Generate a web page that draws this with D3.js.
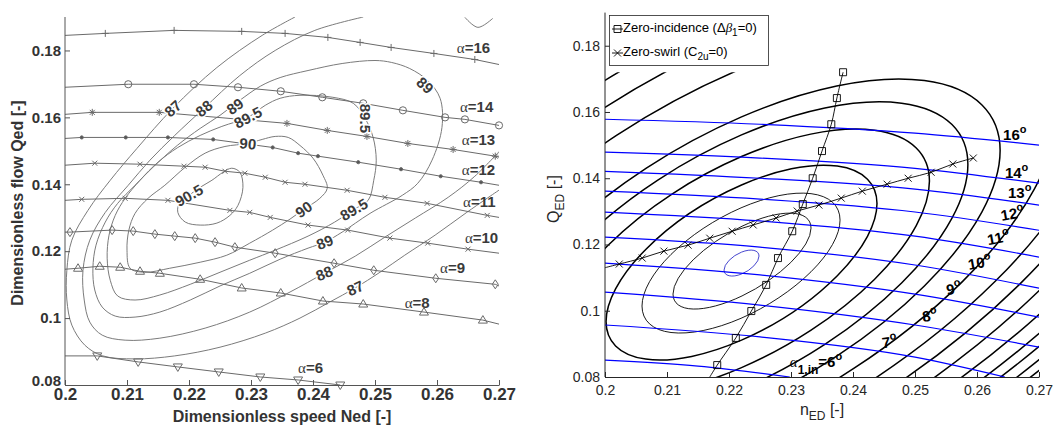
<!DOCTYPE html>
<html>
<head>
<meta charset="utf-8">
<script src="https://cdn.jsdelivr.net/npm/d3@7"></script>
<style>
  body { margin: 0; background: #fff; }
  svg { font-family: "Liberation Sans", Arial, sans-serif; }
</style>
</head>
<body>
<div id="chart"></div>
<script>
// ---------------- shared ticks ----------------
const xTicks = [0.2, 0.21, 0.22, 0.23, 0.24, 0.25, 0.26, 0.27];
const xTickLabels = ["0.2", "0.21", "0.22", "0.23", "0.24", "0.25", "0.26", "0.27"];
const yTicks = [0.08, 0.1, 0.12, 0.14, 0.16, 0.18];
const yTickLabels = ["0.08", "0.1", "0.12", "0.14", "0.16", "0.18"];

// ---------------- left chart: guide vane lines (Ned, Qed) ----------------
const a16Marks = [[0.2065,0.1851],[0.2176,0.1860],[0.2285,0.1857],[0.2355,0.1851],[0.2424,0.1839],[0.2476,0.1824],[0.2526,0.1809],[0.2595,0.1791],[0.2661,0.1773]];
const a14Marks = [[0.2102,0.1699],[0.2208,0.1699],[0.2279,0.1690],[0.2348,0.1678],[0.2415,0.1660],[0.2481,0.1642],[0.2545,0.1621],[0.2613,0.1600],[0.2645,0.1594],[0.2700,0.1576]];
const a13Marks = [[0.2044,0.1615],[0.2152,0.1615],[0.2358,0.1582],[0.2423,0.1561],[0.2487,0.1543],[0.2553,0.1522],[0.2626,0.1504],[0.2694,0.1484]];
const a12Marks = [[0.2027,0.1540],[0.2098,0.1540],[0.2166,0.1540],[0.2239,0.1534],[0.2335,0.1510],[0.2376,0.1493],[0.2408,0.1484],[0.2473,0.1466],[0.2542,0.1445],[0.2606,0.1424],[0.2671,0.1406]];
const a11Marks = [[0.2048,0.1463],[0.2121,0.1460],[0.2192,0.1454],[0.2226,0.1451],[0.2258,0.1439],[0.2290,0.1433],[0.2323,0.1421],[0.2355,0.1406],[0.2387,0.1400],[0.2455,0.1382],[0.2516,0.1361],[0.2584,0.1343],[0.2681,0.1307]];
const a10Marks = [[0.2027,0.1355],[0.2097,0.1358],[0.2166,0.1352],[0.2266,0.1322],[0.2298,0.1316],[0.2331,0.1301],[0.2392,0.1278],[0.2456,0.1263],[0.2524,0.1239],[0.2585,0.1224],[0.2650,0.1206]];
const a9Marks = [[0.2008,0.1257],[0.2076,0.1263],[0.2110,0.1260],[0.2145,0.1251],[0.2177,0.1245],[0.2210,0.1239],[0.2242,0.1227],[0.2274,0.1212],[0.2339,0.1194],[0.2434,0.1164],[0.2498,0.1143],[0.2598,0.1119],[0.2694,0.1101]];
const a8Marks = [[0.2021,0.1149],[0.2056,0.1155],[0.2089,0.1152],[0.2121,0.1140],[0.2153,0.1134],[0.2218,0.1116],[0.2285,0.1090],[0.2348,0.1075],[0.2416,0.1051],[0.2481,0.1042],[0.2579,0.1018],[0.2674,0.0994]];
const a6Marks = [[0.2052,0.0887],[0.2118,0.0869],[0.2182,0.0854],[0.2248,0.0839],[0.2315,0.0824],[0.2376,0.0815],[0.2444,0.0800]];

const leftVanes = [
  {sym: "plus",    start: [0.2, 0.1845], marks: a16Marks, end: [0.27, 0.1758]},
  {sym: "circle",  start: [0.2, 0.1690], marks: a14Marks, end: null},
  {sym: "star",    start: [0.2, 0.1609], marks: a13Marks, end: [0.27, 0.1481]},
  {sym: "dot",     start: [0.2, 0.1537], marks: a12Marks, end: [0.27, 0.1397]},
  {sym: "times",   start: [0.2, 0.1457], marks: a11Marks, end: [0.27, 0.1301]},
  {sym: "times",   start: [0.2, 0.1352], marks: a10Marks, end: [0.27, 0.1194]},
  {sym: "diamond", start: [0.2, 0.1257], marks: a9Marks,  end: [0.27, 0.1096]},
  {sym: "triUp",   start: [0.2, 0.1146], marks: a8Marks,  end: [0.27, 0.0982]},
  {sym: "triDown", start: [0.2, 0.0887], marks: a6Marks,  end: null}
];
const leftVaneLabels = [["16",0.2632,0.1791],["14",0.2637,0.1615],["13",0.2640,0.1516],["12",0.2640,0.1427],["11",0.2642,0.1331],["10",0.2645,0.1224],["9",0.2605,0.1134],["8",0.2548,0.1030],["6",0.2376,0.0836]];

// ---------------- left chart: efficiency contours ----------------
const eta87 = [[0.2371,0.19],[0.2318,0.1845],[0.2245,0.1749],[0.2174,0.1627],[0.2116,0.1507],[0.2073,0.1412],[0.2037,0.1322],[0.2011,0.1233],[0.2003,0.1143],[0.2003,0.1054],[0.2011,0.0979],[0.2032,0.0919],[0.2061,0.0887],[0.2113,0.0878],[0.2177,0.0887],[0.2250,0.0913],[0.2323,0.0955],[0.2379,0.1000],[0.2427,0.1048],[0.2468,0.1090],[0.2508,0.1137],[0.2548,0.1188],[0.2597,0.1248],[0.2648,0.1316],[0.2702,0.1385]];
const eta88 = [[0.2481,0.19],[0.2403,0.1860],[0.2339,0.1800],[0.2282,0.1725],[0.2224,0.1627],[0.2177,0.1546],[0.2137,0.1472],[0.2102,0.1397],[0.2065,0.1316],[0.2040,0.1233],[0.2029,0.1143],[0.2031,0.1054],[0.2040,0.0988],[0.2060,0.0949],[0.2097,0.0934],[0.2153,0.0940],[0.2226,0.0970],[0.2298,0.1018],[0.2363,0.1078],[0.2418,0.1134],[0.2468,0.1185],[0.2516,0.1242],[0.2565,0.1299],[0.2618,0.1361],[0.2661,0.1424],[0.2702,0.1501]];
const eta89 = [[0.2419,0.1227],[0.2447,0.1257],[0.2492,0.1313],[0.2544,0.1367],[0.2569,0.1403],[0.2592,0.1472],[0.2608,0.1570],[0.2605,0.1657],[0.2585,0.1710],[0.2556,0.1746],[0.2527,0.1764],[0.2500,0.1770],[0.2447,0.1761],[0.2392,0.1740],[0.2347,0.1719],[0.2315,0.1693],[0.2282,0.1651],[0.2250,0.1606],[0.2218,0.1567],[0.2181,0.1516],[0.2142,0.1451],[0.2113,0.1397],[0.2085,0.1343],[0.2065,0.1287],[0.2050,0.1218],[0.2045,0.1149],[0.2048,0.1084],[0.2060,0.1033],[0.2081,0.1006],[0.2113,0.1003],[0.2153,0.1018],[0.2202,0.1054],[0.2250,0.1096],[0.2298,0.1134],[0.2347,0.1176],[0.2392,0.1209]];
const eta895 = [[0.2295,0.1600],[0.2323,0.1636],[0.2347,0.1657],[0.2379,0.1666],[0.2432,0.1660],[0.2465,0.1642],[0.2484,0.1597],[0.2497,0.1540],[0.2502,0.1472],[0.2498,0.1412],[0.2489,0.1352],[0.2466,0.1325],[0.2435,0.1287],[0.2392,0.1245],[0.2339,0.1203],[0.2298,0.1173],[0.2250,0.1137],[0.2202,0.1101],[0.2153,0.1069],[0.2113,0.1054],[0.2085,0.1066],[0.2073,0.1113],[0.2068,0.1179],[0.2071,0.1248],[0.2081,0.1307],[0.2097,0.1358],[0.2121,0.1412],[0.2150,0.1466],[0.2182,0.1510],[0.2218,0.1546],[0.2253,0.1573]];
const eta90 = [[0.2295,0.1522],[0.2318,0.1534],[0.2339,0.1543],[0.2360,0.1540],[0.2379,0.1516],[0.2400,0.1478],[0.2416,0.1427],[0.2423,0.1388],[0.2411,0.1358],[0.2385,0.1325],[0.2363,0.1296],[0.2335,0.1263],[0.2298,0.1224],[0.2261,0.1188],[0.2218,0.1167],[0.2169,0.1149],[0.2129,0.1137],[0.2105,0.1149],[0.2100,0.1203],[0.2103,0.1263],[0.2113,0.1313],[0.2134,0.1358],[0.2161,0.1397],[0.2194,0.1451],[0.2226,0.1493],[0.2258,0.1513]];
const eta905 = [[0.2200,0.1367],[0.2218,0.1391],[0.2237,0.1412],[0.2255,0.1436],[0.2269,0.1448],[0.2282,0.1436],[0.2287,0.1391],[0.2279,0.1337],[0.2266,0.1307],[0.2245,0.1284],[0.2218,0.1278],[0.2194,0.1287],[0.2182,0.1316],[0.2185,0.1346]];
const etaCorner = [[0.2645,0.1899],[0.2666,0.1869],[0.2690,0.1896]];

const openContours = [eta87, eta88, etaCorner];
const closedContours = [eta89, eta895, eta90, eta905];
const leftLevelLabels = [["87",0.2174,0.1627,-42],["88",0.2224,0.1627,-40],["89",0.2274,0.1633,-35],["89.5",0.2295,0.1600,-28],["90",0.2295,0.1522,5],["90.5",0.2200,0.1367,-30],["89",0.2581,0.1696,42],["89.5",0.2484,0.1597,90],["90",0.2385,0.1325,-35],["89.5",0.2466,0.1325,-30],["89",0.2419,0.1227,-22],["88",0.2418,0.1134,-22],["87",0.2468,0.1090,-25]];

// ---------------- right chart: guide vane lines (nED, QED) ----------------
const gv16 = [[0.2,0.1578],[0.225,0.1563],[0.25,0.1536],[0.27,0.1500]];
const gv14 = [[0.2,0.1479],[0.225,0.1461],[0.25,0.1430],[0.27,0.1385]];
const gv13 = [[0.2,0.1421],[0.225,0.1400],[0.25,0.1367],[0.27,0.1319]];
const gv12 = [[0.2,0.1361],[0.225,0.1337],[0.25,0.1298],[0.27,0.1243]];
const gv11 = [[0.2,0.1298],[0.225,0.1271],[0.25,0.1225],[0.27,0.1162]];
const gv10 = [[0.2,0.1222],[0.225,0.1192],[0.25,0.1138],[0.27,0.1068]];
const gv9  = [[0.2,0.1144],[0.225,0.1108],[0.25,0.1050],[0.27,0.0981]];
const gv8  = [[0.2,0.1056],[0.225,0.1017],[0.25,0.0957],[0.27,0.0890]];
const gv7  = [[0.2,0.0957],[0.225,0.0921],[0.25,0.0860],[0.2645,0.0800]];
const gv6  = [[0.2,0.0851],[0.215,0.0833],[0.2298,0.0800]];
const rightVanes = [gv16, gv14, gv13, gv12, gv11, gv10, gv9, gv8, gv7, gv6];
const rightVaneLabels = [["16",0.2642,0.1515,0],["14",0.2645,0.1400,0],["13",0.2650,0.1340,0],["12",0.2640,0.1271,-10],["11",0.2618,0.1198,-10],["10",0.2587,0.1123,-10],["9",0.2552,0.1047,-10],["8",0.2513,0.0966,-8],["7",0.2448,0.0887,-8]];
const alphaInLabel = ["6", 0.2298, 0.0830];

// zero-incidence and zero-swirl lines
const zeroIncidence = [[0.2384,0.1720],[0.2374,0.1642],[0.2365,0.1563],[0.2350,0.1482],[0.2335,0.1400],[0.2319,0.1322],[0.2302,0.1240],[0.2279,0.1159],[0.2260,0.1078],[0.2236,0.0999],[0.2211,0.0918],[0.2181,0.0836]];
const zeroIncidenceEnd = [0.2169, 0.08];
const zeroSwirl = [[0.2594,0.1461],[0.2561,0.1443],[0.2526,0.1418],[0.2489,0.1400],[0.2455,0.1382],[0.2415,0.1361],[0.2381,0.1340],[0.2345,0.1319],[0.2310,0.1301],[0.2276,0.1280],[0.2239,0.1259],[0.2205,0.1240],[0.2169,0.1219],[0.2134,0.1198],[0.2095,0.1180],[0.2060,0.1159],[0.2023,0.1141]];
const zeroSwirlStart = [0.2, 0.1130];

// efficiency contours: [centre n, centre Q, half width in n, half height in Q, Q offset of rightmost point]
const peakContour = [0.22202, 0.11439, 0.00282, 0.00392, 0.00211];
const effContours = [
  [0.22210, 0.11499, 0.01113, 0.01448, 0.00995],
  [0.22194, 0.11439, 0.01597, 0.02112, 0.01297],
  [0.22202, 0.11454, 0.02185, 0.02941, 0.01780],
  [0.22202, 0.11469, 0.03031, 0.04016, 0.02445],
  [0.22202, 0.11469, 0.03651, 0.04838, 0.02945],
  [0.22202, 0.11469, 0.04171, 0.05527, 0.03365],
  [0.22105, 0.11783, 0.05181, 0.06865, 0.04179],
  [0.22065, 0.11913, 0.05975, 0.07917, 0.04820],
  [0.22040, 0.11991, 0.06610, 0.08758, 0.05332],
  [0.22008, 0.12097, 0.07245, 0.09600, 0.05844],
  [0.21976, 0.12199, 0.07865, 0.10422, 0.06345],
  [0.21952, 0.12278, 0.08385, 0.11110, 0.06764],
  [0.21927, 0.12356, 0.08775, 0.11627, 0.07078],
  [0.21911, 0.12410, 0.09150, 0.12124, 0.07381],
  [0.21895, 0.12462, 0.09467, 0.12545, 0.07637],
  [0.21879, 0.12513, 0.09698, 0.12851, 0.07823]
];
const contourQmax = 0.172;

// ---------------- drawing ----------------
const svg = d3.select("#chart").append("svg")
  .attr("width", 1058)
  .attr("height", 426);

function markerPath(type) {
  switch (type) {
    case "plus":    return "M-3.5,0H3.5M0,-3.5V3.5";
    case "times":   return "M-2.5,-2.5L2.5,2.5M-2.5,2.5L2.5,-2.5";
    case "star":    return "M-3.5,0H3.5M0,-3.5V3.5M-2.5,-2.5L2.5,2.5M-2.5,2.5L2.5,-2.5";
    case "circle":  return "M3.6,0A3.6,3.6 0 1,1 -3.6,0A3.6,3.6 0 1,1 3.6,0Z";
    case "dot":     return "M1.6,0A1.6,1.6 0 1,1 -1.6,0A1.6,1.6 0 1,1 1.6,0Z";
    case "diamond": return "M0,-4.5L3,0L0,4.5L-3,0Z";
    case "triUp":   return "M0,-4.5L4.5,3L-4.5,3Z";
    case "triDown": return "M0,4.5L4.5,-3L-4.5,-3Z";
    case "square":  return "M-3.5,-3.5H3.5V3.5H-3.5Z";
    case "x":       return "M-3.5,-3.5L3.5,3.5M-3.5,3.5L3.5,-3.5";
  }
}

// ===== LEFT CHART =====
const xL = d3.scaleLinear().domain([0.2, 0.27]).range([65, 499]);
const yL = d3.scaleLinear().domain([0.08, 0.19]).range([385, 17]);
const gray = "#7b7b7b";

svg.append("clipPath").attr("id", "clipL")
  .append("rect").attr("x", 65).attr("y", 17).attr("width", 434).attr("height", 368);

const left = svg.append("g");
const plotL = left.append("g").attr("clip-path", "url(#clipL)");

const lineOpenL = d3.line().x(d => xL(d[0])).y(d => yL(d[1])).curve(d3.curveCatmullRom.alpha(0.5));
const lineClosedL = d3.line().x(d => xL(d[0])).y(d => yL(d[1])).curve(d3.curveCatmullRomClosed.alpha(0.5));
const lineLinL = d3.line().x(d => xL(d[0])).y(d => yL(d[1]));

plotL.selectAll(".openC").data(openContours).join("path")
  .attr("d", lineOpenL).attr("fill", "none").attr("stroke", gray).attr("stroke-width", 1);
plotL.selectAll(".closedC").data(closedContours).join("path")
  .attr("d", lineClosedL).attr("fill", "none").attr("stroke", gray).attr("stroke-width", 1);

leftVanes.forEach(v => {
  const pts = [v.start].concat(v.marks, v.end ? [v.end] : []);
  plotL.append("path").attr("d", lineLinL(pts))
    .attr("fill", "none").attr("stroke", "#6a6a6a").attr("stroke-width", 1);
  left.append("g").selectAll("path").data(v.marks).join("path")
    .attr("transform", d => `translate(${xL(d[0])},${yL(d[1])})`)
    .attr("d", markerPath(v.sym))
    .attr("fill", v.sym === "dot" ? "#555" : "none")
    .attr("stroke", "#6a6a6a").attr("stroke-width", 1);
});

// contour level labels
left.selectAll(".lvl").data(leftLevelLabels).join("text")
  .attr("transform", d => `translate(${xL(d[1])},${yL(d[2])}) rotate(${d[3]})`)
  .attr("text-anchor", "middle").attr("dominant-baseline", "central")
  .attr("font-size", 15).attr("font-weight", "bold").attr("fill", "#3a3a3a")
  .attr("stroke", "#fff").attr("stroke-width", 3).attr("paint-order", "stroke")
  .text(d => d[0]);

// alpha labels
const aLab = left.selectAll(".alab").data(leftVaneLabels).join("text")
  .attr("x", d => xL(d[1])).attr("y", d => yL(d[2]))
  .attr("font-size", 15).attr("fill", "#3a3a3a");
aLab.append("tspan").attr("font-family", "'Liberation Serif', 'DejaVu Serif', serif").text("\u03b1");
aLab.append("tspan").attr("font-weight", "bold").text(d => "=" + d[0]);

// axes
const axLB = left.append("g").attr("transform", "translate(0,385)")
  .call(d3.axisBottom(xL).tickValues(xTicks).tickFormat((d, i) => xTickLabels[i])
    .tickSize(-5).tickSizeOuter(0).tickPadding(3));
const axLL = left.append("g").attr("transform", "translate(65,0)")
  .call(d3.axisLeft(yL).tickValues(yTicks).tickFormat((d, i) => yTickLabels[i])
    .tickSize(-5).tickSizeOuter(0).tickPadding(4));
[axLB, axLL].forEach(g => {
  g.attr("font-family", null);
  g.select(".domain").attr("stroke", "#555");
  g.selectAll(".tick line").attr("stroke", "#555");
  g.selectAll(".tick text").attr("fill", "#333").attr("font-weight", "bold");
});
axLB.selectAll(".tick text").attr("font-size", 17);
axLL.selectAll(".tick text").attr("font-size", 15);
axLL.selectAll(".tick text").filter(d => d === 0.08).attr("y", -4);
axLL.select(".domain").attr("d", `M0,${yL(0.19)}V${yL(0.08)}`);

left.append("text").attr("x", 282).attr("y", 422).attr("text-anchor", "middle")
  .attr("font-size", 16).attr("font-weight", "bold").attr("fill", "#333")
  .text("Dimensionless speed Ned [-]");
left.append("text").attr("transform", "translate(23,203) rotate(-90)").attr("text-anchor", "middle")
  .attr("font-size", 16).attr("font-weight", "bold").attr("fill", "#333")
  .text("Dimensionless flow Qed [-]");

// ===== RIGHT CHART =====
const xR = d3.scaleLinear().domain([0.2, 0.27]).range([605, 1039]);
const yR = d3.scaleLinear().domain([0.08, 0.19]).range([377, 12.6]);

const right = svg.append("g");
svg.append("clipPath").attr("id", "clipR")
  .append("rect").attr("x", xR(0.2)).attr("y", yR(0.19))
  .attr("width", xR(0.27) - xR(0.2)).attr("height", yR(0.08) - yR(0.19));
svg.append("clipPath").attr("id", "clipC")
  .append("rect").attr("x", xR(0.2)).attr("y", yR(contourQmax))
  .attr("width", xR(0.27) - xR(0.2)).attr("height", yR(0.08) - yR(contourQmax));

function ellipseMatrix(e) {
  const [cn, cq, w, h, r] = e;
  const k = Math.sqrt(h * h - r * r);
  const a = xR(cn + w) - xR(cn);
  const b = yR(cq + r) - yR(cq);
  const d = yR(cq + k) - yR(cq);
  return `matrix(${a},${b},0,${d},${xR(cn)},${yR(cq)})`;
}

const contG = right.append("g").attr("clip-path", "url(#clipC)");
contG.selectAll("circle").data(effContours).join("circle")
  .attr("r", 1).attr("transform", ellipseMatrix)
  .attr("fill", "none").attr("stroke", "#000")
  .attr("stroke-width", (d, i) => i < 2 ? 0.9 : 1.5)
  .attr("vector-effect", "non-scaling-stroke");
contG.append("circle").datum(peakContour)
  .attr("r", 1).attr("transform", ellipseMatrix)
  .attr("fill", "none").attr("stroke", "#3232c8").attr("stroke-width", 0.9)
  .attr("vector-effect", "non-scaling-stroke");

const blueG = right.append("g").attr("clip-path", "url(#clipR)");
const lineR = d3.line().x(d => xR(d[0])).y(d => yR(d[1])).curve(d3.curveMonotoneX);
blueG.selectAll("path").data(rightVanes).join("path")
  .attr("d", lineR).attr("fill", "none").attr("stroke", "#0000ff").attr("stroke-width", 1.2);

// zero-incidence line
const lineRc = d3.line().x(d => xR(d[0])).y(d => yR(d[1])).curve(d3.curveCatmullRom.alpha(0.5));
right.append("path").attr("d", lineRc(zeroIncidence.concat([zeroIncidenceEnd])))
  .attr("fill", "none").attr("stroke", "#000").attr("stroke-width", 0.9);
right.append("g").selectAll("path").data(zeroIncidence).join("path")
  .attr("transform", d => `translate(${xR(d[0])},${yR(d[1])})`)
  .attr("d", markerPath("square")).attr("fill", "none").attr("stroke", "#000").attr("stroke-width", 0.9);

// zero-swirl line
right.append("path").attr("d", lineRc([zeroSwirlStart].concat(zeroSwirl.slice().reverse())))
  .attr("fill", "none").attr("stroke", "#000").attr("stroke-width", 0.9);
right.append("g").selectAll("path").data(zeroSwirl).join("path")
  .attr("transform", d => `translate(${xR(d[0])},${yR(d[1])})`)
  .attr("d", markerPath("x")).attr("fill", "none").attr("stroke", "#000").attr("stroke-width", 0.9);

// vane angle labels
const degLab = right.selectAll(".deg").data(rightVaneLabels).join("text")
  .attr("transform", d => `translate(${xR(d[1])},${yR(d[2])}) rotate(${d[3]})`)
  .attr("font-size", 15).attr("font-weight", "bold").attr("fill", "#000");
degLab.append("tspan").text(d => d[0]);
degLab.append("tspan").attr("dy", -7).attr("font-size", 11).text("o");

const ain = right.append("text")
  .attr("x", xR(alphaInLabel[1])).attr("y", yR(alphaInLabel[2]))
  .attr("font-size", 15).attr("fill", "#000");
ain.append("tspan").attr("font-family", "'Liberation Serif', 'DejaVu Serif', serif").attr("font-style", "italic").text("\u03b1");
ain.append("tspan").attr("dy", 7).attr("font-size", 12).attr("font-weight", "bold").text("1,in");
ain.append("tspan").attr("dy", -7).attr("font-weight", "bold").text("=" + alphaInLabel[0]);
ain.append("tspan").attr("dy", -7).attr("font-size", 11).attr("font-weight", "bold").text("o");

// axes
const axRB = right.append("g").attr("transform", `translate(0,${yR(0.08)})`)
  .call(d3.axisBottom(xR).tickValues(xTicks).tickFormat((d, i) => xTickLabels[i])
    .tickSize(-5).tickSizeOuter(0).tickPadding(8));
const axRL = right.append("g").attr("transform", `translate(${xR(0.2)},0)`)
  .call(d3.axisLeft(yR).tickValues(yTicks).tickFormat((d, i) => yTickLabels[i])
    .tickSize(-5).tickSizeOuter(0).tickPadding(5));
[axRB, axRL].forEach(g => {
  g.attr("font-family", null);
  g.select(".domain").attr("stroke", "#262626");
  g.selectAll(".tick line").attr("stroke", "#262626");
  g.selectAll(".tick text").attr("fill", "#262626").attr("font-size", 14);
});
axRL.select(".domain").attr("d", `M0,${yR(0.19)}V${yR(0.08)}`);

const xt = right.append("text").attr("x", 822).attr("y", 415).attr("text-anchor", "middle")
  .attr("font-size", 16).attr("fill", "#262626");
xt.append("tspan").text("n");
xt.append("tspan").attr("dy", 5).attr("font-size", 12).text("ED");
xt.append("tspan").attr("dy", -5).text(" [-]");

const yt = right.append("text").attr("transform", "translate(559,199) rotate(-90)").attr("text-anchor", "middle")
  .attr("font-size", 16).attr("fill", "#262626");
yt.append("tspan").text("Q");
yt.append("tspan").attr("dy", 5).attr("font-size", 12).text("ED");
yt.append("tspan").attr("dy", -5).text(" [-]");

// legend
const lg = right.append("g");
lg.append("rect").attr("x", 609.5).attr("y", 15.5).attr("width", 159).attr("height", 50)
  .attr("fill", "#fff").attr("stroke", "#262626").attr("stroke-width", 0.8);
lg.append("line").attr("x1", 612).attr("x2", 623).attr("y1", 29).attr("y2", 29).attr("stroke", "#000").attr("stroke-width", 0.9);
lg.append("path").attr("transform", "translate(617.5,29)").attr("d", markerPath("square"))
  .attr("fill", "none").attr("stroke", "#000").attr("stroke-width", 0.9);
lg.append("line").attr("x1", 612).attr("x2", 623).attr("y1", 53).attr("y2", 53).attr("stroke", "#000").attr("stroke-width", 0.9);
lg.append("path").attr("transform", "translate(617.5,53)").attr("d", markerPath("x"))
  .attr("fill", "none").attr("stroke", "#000").attr("stroke-width", 0.9);

const l1 = lg.append("text").attr("x", 623).attr("y", 32).attr("font-size", 13).attr("fill", "#000");
l1.append("tspan").text("Zero-incidence (\u0394");
l1.append("tspan").attr("font-style", "italic").attr("font-family", "'Liberation Serif', 'DejaVu Serif', serif").text("\u03b2");
l1.append("tspan").attr("dy", 4).attr("font-size", 10).text("1");
l1.append("tspan").attr("dy", -4).text("=0)");

const l2 = lg.append("text").attr("x", 623).attr("y", 56).attr("font-size", 13).attr("fill", "#000");
l2.append("tspan").text("Zero-swirl (C");
l2.append("tspan").attr("dy", 4).attr("font-size", 10).text("2u");
l2.append("tspan").attr("dy", -4).text("=0)");
</script>
</body>
</html>
